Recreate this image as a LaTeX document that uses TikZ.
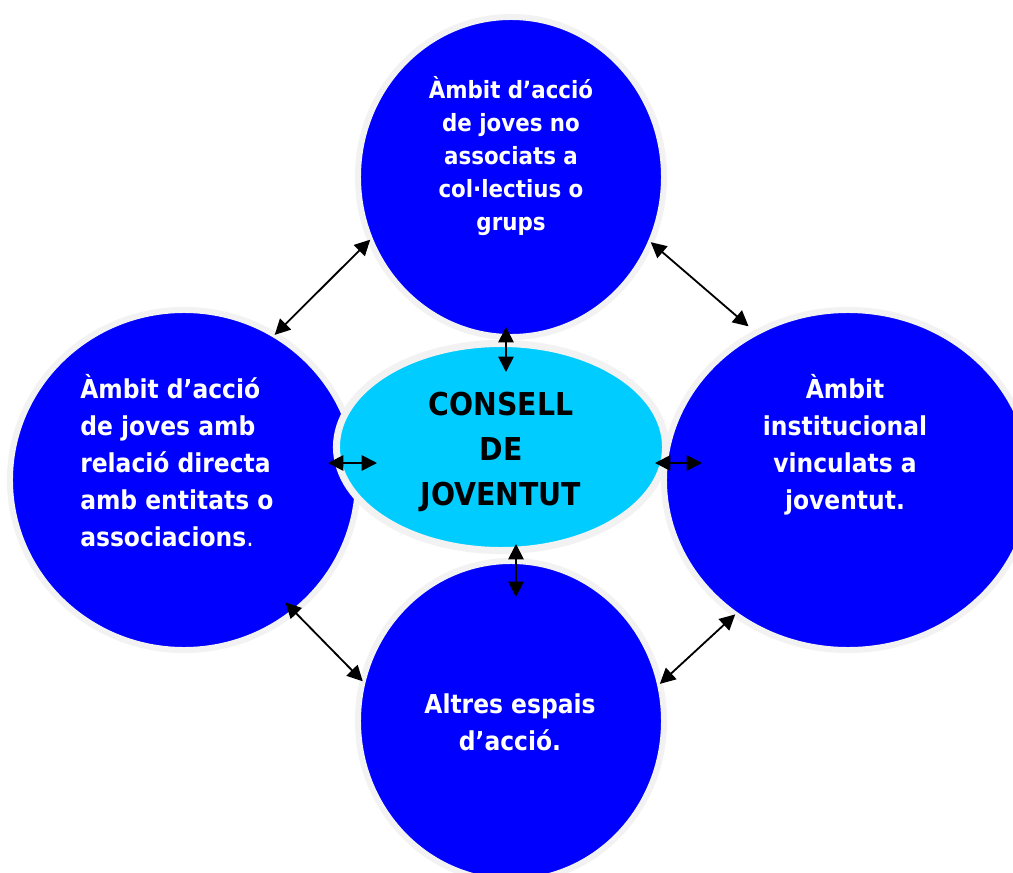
\documentclass[tikz,border=0pt]{standalone}
\usepackage{fontspec}
\setmainfont{DejaVu Sans Condensed}
\usetikzlibrary{shapes.geometric}
\usetikzlibrary{arrows.meta}
\definecolor{ambitblau}{HTML}{0000FF}
\definecolor{consellcel}{HTML}{00CCFF}
\definecolor{vora}{HTML}{F2F2F2}

\begin{document}
\begin{tikzpicture}[x=0.025cm, y=-0.025cm,
	ambit/.style={ellipse, fill=ambitblau, draw=vora, line width=4.3pt, inner sep=0pt, outer sep=0pt},
	consell/.style={ellipse, fill=consellcel, draw=vora, line width=5pt, inner sep=0pt, outer sep=0pt},
	rel/.style={{Triangle[length=11pt,width=11pt]}-{Triangle[length=11pt,width=11pt]}, line width=1.3pt},
	lletra/.style={text=white, font=\bfseries\fontsize{18.5}{26.3}\selectfont, inner sep=0pt}]
	%frame
	\useasboundingbox (0,0) rectangle (1013,873);
	\clip (0,0) rectangle (1013,873);
	%ambits
	\node[ambit, minimum width=7.65cm, minimum height=8cm] (dalt) at (511,177) {};
	\node[ambit, minimum width=8.7cm, minimum height=8.5cm] (esq) at (184,480) {};
	\node[ambit, minimum width=9.2cm, minimum height=8.5cm] (dreta) at (848,480) {};
	\node[ambit, minimum width=7.65cm, minimum height=8cm] (baix) at (511,721) {};
	%consell
	\node[consell, minimum width=8.225cm, minimum height=5.175cm] (cons) at (501,447) {};
	%texts
	\node[lletra, align=center, font=\bfseries\fontsize{16.9}{23.5}\selectfont] (tdalt) at (511,156) {Àmbit d’acció\\de joves no\\associats a\\col·lectius o\\grups};
	\node[lletra, align=left, anchor=west] (tesq) at (80,461) {Àmbit d’acció\\de joves amb\\relació directa\\amb entitats o\\associacions{\mdseries .}};
	\node[lletra, align=center] (tdreta) at (845,445) {Àmbit\\institucional\\vinculats a\\joventut.};
	\node[lletra, align=center] (tbaix) at (510,722) {Altres espais\\d’acció.};
	\node[align=center, font=\bfseries\fontsize{22.4}{32}\selectfont, inner sep=0pt] (tcons) at (501,452) {CONSELL\\DE\\JOVENTUT};
	%arrows
	\draw[rel] (esq.58.5) -- (dalt.204.1);
	\draw[rel, shorten >=7pt] (dalt.335.9) -- (dreta.122.5);
	\draw[rel, shorten <=-9pt] (esq.310.7) -- (baix.165.2);
	\draw[rel] (baix.14.8) -- (dreta.230.6);
	\coordinate (c1) at (506,327);
	\coordinate (c2) at (506,372);
	\coordinate (c3) at (328,463);
	\coordinate (c4) at (377,463);
	\coordinate (c5) at (655,463);
	\coordinate (c6) at (702,463);
	\coordinate (c7) at (516,544);
	\coordinate (c8) at (516,597);
	\draw[rel] (c1) -- (c2);
	\draw[rel] (c3) -- (c4);
	\draw[rel] (c5) -- (c6);
	\draw[rel] (c7) -- (c8);
\end{tikzpicture}
\end{document}
